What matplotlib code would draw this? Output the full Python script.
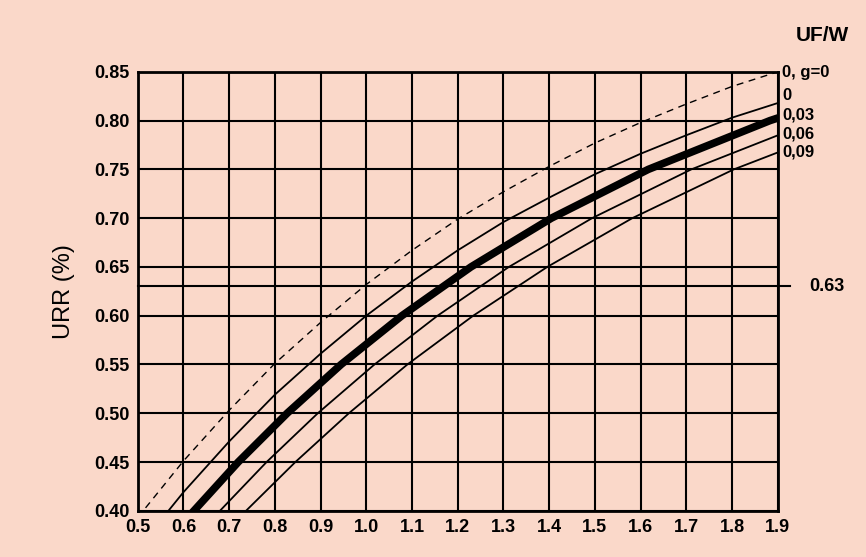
import matplotlib.pyplot as plt
import numpy as np

plt.rcParams['font.family'] = ['Liberation Sans', 'DejaVu Sans']

# dashed reference curve (UF/W = 0, g = 0)
x_g0 = [0.5, 0.6, 0.7, 0.8, 0.9, 1.0, 1.1, 1.2, 1.3, 1.4, 1.5, 1.6, 1.7, 1.8, 1.9]
urr_g0 = [0.393, 0.451, 0.503, 0.551, 0.593, 0.632, 0.667, 0.699, 0.727, 0.753,
          0.777, 0.798, 0.817, 0.835, 0.850]

# UF/W = 0
x_0 = [0.5, 0.6, 0.7, 0.8, 0.9, 1.0, 1.1, 1.2, 1.3, 1.4, 1.5, 1.6, 1.7, 1.8, 1.9]
urr_0 = [0.361, 0.419, 0.471, 0.519, 0.561, 0.600, 0.635, 0.667, 0.696, 0.721,
         0.745, 0.766, 0.785, 0.803, 0.818]

urr_pts = [0.40, 0.45, 0.50, 0.55, 0.60, 0.65, 0.70, 0.75, 0.80, 0.82]
x_003 = [0.623, 0.720, 0.827, 0.945, 1.078, 1.229, 1.405, 1.617, 1.883, 2.012]
x_006 = [0.680, 0.782, 0.894, 1.018, 1.156, 1.312, 1.494, 1.711, 1.982, 2.113]
x_009 = [0.737, 0.845, 0.962, 1.090, 1.234, 1.396, 1.582, 1.804, 2.081, 2.214]

labels = ['0, g=0', '0', '0,03', '0,06', '0,09']
label_y = [0.849, 0.826, 0.806, 0.786, 0.768]

bg = '#fad8c9'
fig = plt.figure(figsize=(8.66, 5.57), dpi=100, facecolor=bg)
ax = fig.add_axes([0.159, 0.083, 0.739, 0.788], facecolor=bg)

ax.plot(x_g0, urr_g0, 'k--', lw=1.0, dashes=(5, 4))
ax.plot(x_0, urr_0, 'k-', lw=1.3)
ax.plot(x_003, urr_pts, 'k-', lw=5.5)
ax.plot(x_006, urr_pts, 'k-', lw=1.3)
ax.plot(x_009, urr_pts, 'k-', lw=1.3)

ax.axhline(0.63, color='k', lw=1.5, xmax=1.02, clip_on=False)
ax.text(1.9 + 0.07, 0.63, '0.63', fontsize=13, fontweight='bold', va='center')

ax.set_xlim(0.5, 1.9)
ax.set_ylim(0.40, 0.85)
ax.set_xticks(np.arange(0.5, 1.91, 0.1))
ax.set_yticks(np.arange(0.40, 0.851, 0.05))
ax.set_xticklabels([f'{v:.1f}' for v in np.arange(0.5, 1.91, 0.1)])
ax.set_yticklabels([f'{v:.2f}' for v in np.arange(0.40, 0.851, 0.05)])
ax.grid(True, color='k', lw=1.5)
ax.tick_params(length=0, labelsize=13, pad=6)
for t in ax.get_xticklabels() + ax.get_yticklabels():
    t.set_fontweight('bold')
for s in ax.spines.values():
    s.set_linewidth(2)

for lab, y in zip(labels, label_y):
    ax.text(1.91, y, lab, fontsize=12, fontweight='bold', va='center')
ax.text(1.94, 0.887, 'UF/W', fontsize=15, fontweight='bold', va='center')
ax.set_ylabel('URR (%)', fontsize=17, labelpad=14)

fig.savefig('out.png', dpi=100, facecolor=bg)
